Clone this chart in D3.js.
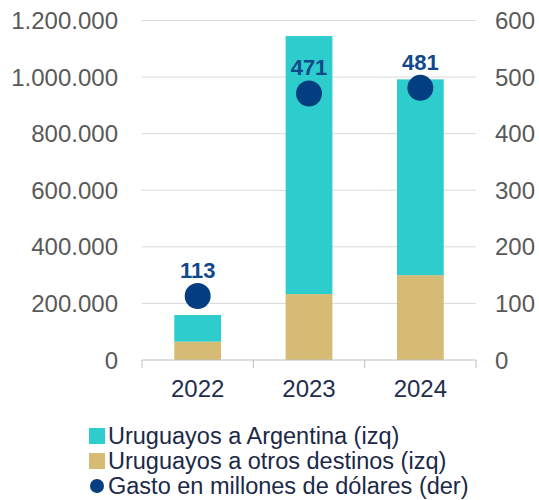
<!DOCTYPE html>
<html>
<head>
<meta charset="utf-8">
<script src="https://cdn.jsdelivr.net/npm/d3@7"></script>
<style>
  body { margin: 0; background: #fff; }
  text { font-family: "Liberation Sans", Arial, sans-serif; }
</style>
</head>
<body>
<svg id="chart" width="539" height="500"></svg>
<script>
// data
const years = ["2022", "2023", "2024"];
const toArgentina = [94000, 912000, 692000];
const toOthers = [65000, 233000, 300000];
const spending = [113, 471, 481];
const leftTicks = [0, 200000, 400000, 600000, 800000, 1000000, 1200000];
const rightTicks = [0, 100, 200, 300, 400, 500, 600];
const legendLabels = ["Uruguayos a Argentina (izq)", "Uruguayos a otros destinos (izq)", "Gasto en millones de dólares (der)"];

const teal = "#2ecdcd", tan = "#d5bb74", navy = "#033f80";

const svg = d3.select("#chart");
const plotLeft = 142, plotRight = 476, plotTop = 20.5, plotBottom = 360;

const x = d3.scaleBand().domain(years).range([plotLeft, plotRight]).paddingInner(0.58).paddingOuter(0.29);
const yL = d3.scaleLinear().domain([0, 1200000]).range([plotBottom, plotTop]);
const yR = d3.scaleLinear().domain([0, 600]).range([plotBottom, plotTop]);

const fmt = v => d3.format(",")(v).replace(/,/g, ".");

// gridlines
svg.append("g").selectAll("line")
  .data(leftTicks.filter(d => d > 0))
  .join("line")
  .attr("x1", plotLeft).attr("x2", plotRight)
  .attr("y1", d => yL(d)).attr("y2", d => yL(d))
  .attr("stroke", "#d9d9d9").attr("stroke-width", 1);

// left axis labels
svg.append("g").selectAll("text")
  .data(leftTicks)
  .join("text")
  .attr("x", 118).attr("y", d => yL(d))
  .attr("dy", "0.36em")
  .attr("text-anchor", "end")
  .attr("font-size", 24)
  .attr("fill", "#595959")
  .text(fmt);

// right axis labels
svg.append("g").selectAll("text")
  .data(rightTicks)
  .join("text")
  .attr("x", 495).attr("y", d => yR(d))
  .attr("dy", "0.36em")
  .attr("text-anchor", "start")
  .attr("font-size", 24)
  .attr("fill", "#595959")
  .text(d => d);

// stacked bars
const stack = years.map((yr, i) => ({ year: yr, others: toOthers[i], arg: toArgentina[i] }));
const bars = svg.append("g");
bars.selectAll(".otros")
  .data(stack)
  .join("rect")
  .attr("class", "otros")
  .attr("x", d => x(d.year)).attr("width", x.bandwidth())
  .attr("y", d => yL(d.others))
  .attr("height", d => yL(0) - yL(d.others))
  .attr("fill", tan);
bars.selectAll(".arg")
  .data(stack)
  .join("rect")
  .attr("class", "arg")
  .attr("x", d => x(d.year)).attr("width", x.bandwidth())
  .attr("y", d => yL(d.others + d.arg))
  .attr("height", d => yL(d.others) - yL(d.others + d.arg))
  .attr("fill", teal);

// x axis
const xAxis = svg.append("g");
xAxis.append("line")
  .attr("x1", plotLeft).attr("x2", plotRight)
  .attr("y1", plotBottom).attr("y2", plotBottom)
  .attr("stroke", "#bfbfbf");
const step = (plotRight - plotLeft) / years.length;
xAxis.selectAll(".tick")
  .data(d3.range(years.length + 1))
  .join("line")
  .attr("class", "tick")
  .attr("x1", i => plotLeft + i * step).attr("x2", i => plotLeft + i * step)
  .attr("y1", plotBottom).attr("y2", plotBottom + 8)
  .attr("stroke", "#bfbfbf");
xAxis.selectAll("text")
  .data(years)
  .join("text")
  .attr("x", d => x(d) + x.bandwidth() / 2)
  .attr("y", 388)
  .attr("dy", "0.36em")
  .attr("text-anchor", "middle")
  .attr("font-size", 24)
  .attr("fill", "#1f2d4d")
  .text(d => d);

// spending dots + labels
const dots = svg.append("g");
dots.selectAll("circle")
  .data(spending)
  .join("circle")
  .attr("cx", (d, i) => x(years[i]) + x.bandwidth() / 2)
  .attr("cy", d => yR(d))
  .attr("r", 13)
  .attr("fill", navy);
dots.selectAll("text")
  .data(spending)
  .join("text")
  .attr("x", (d, i) => x(years[i]) + x.bandwidth() / 2)
  .attr("y", d => yR(d) - 18)
  .attr("text-anchor", "middle")
  .attr("font-size", 22)
  .attr("font-weight", "bold")
  .attr("fill", "#10488a")
  .text(d => d);

// legend
const legend = svg.append("g").attr("transform", "translate(89,0)");
const legendY = [436, 461, 486];
legendLabels.forEach((lab, i) => {
  const g = legend.append("g").attr("transform", `translate(0,${legendY[i]})`);
  if (i < 2) {
    g.append("rect").attr("x", 0).attr("y", -8).attr("width", 16).attr("height", 16)
      .attr("fill", i === 0 ? teal : tan);
  } else {
    g.append("circle").attr("cx", 8).attr("cy", 0).attr("r", 7).attr("fill", navy);
  }
  g.append("text")
    .attr("x", 19).attr("y", 0).attr("dy", "0.36em")
    .attr("font-size", 23.5)
    .attr("fill", "#1b2947")
    .text(lab);
});
</script>
</body>
</html>
